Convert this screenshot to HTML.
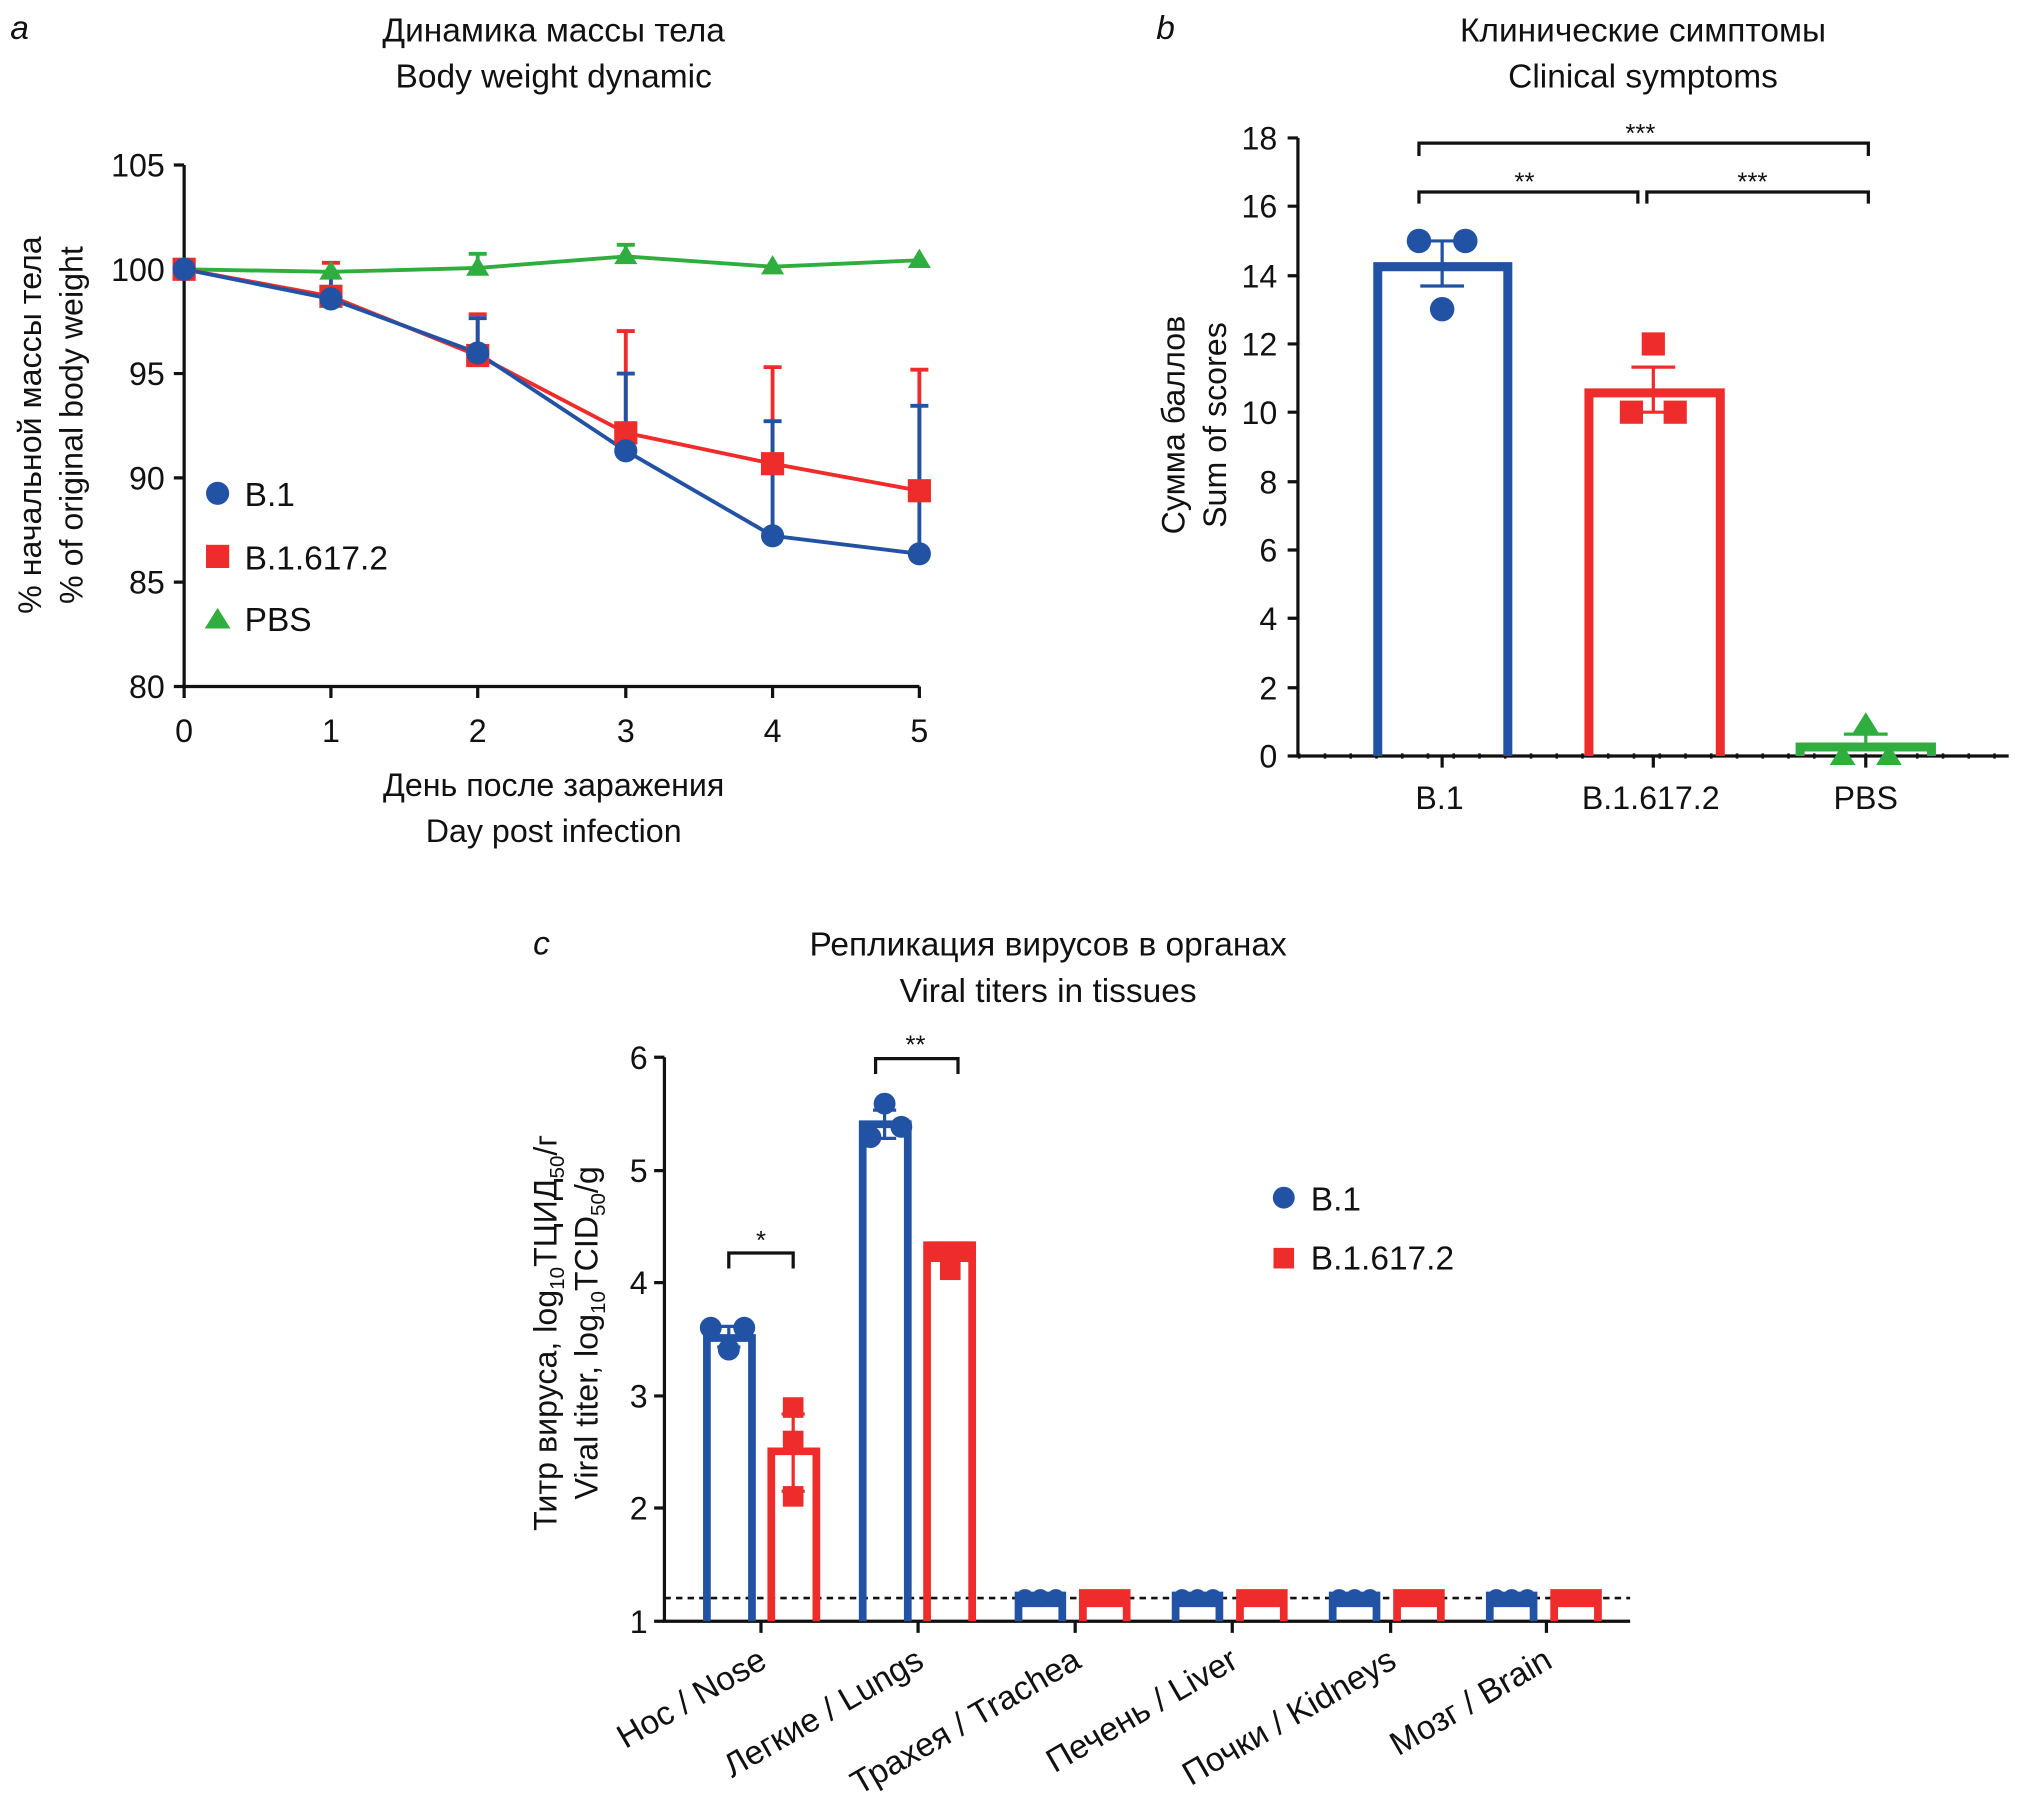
<!DOCTYPE html>
<html><head><meta charset="utf-8"><style>
html,body{margin:0;padding:0;background:#fff;}
svg{display:block;}
text{font-family:"Liberation Sans Narrow","Liberation Sans","DejaVu Sans",sans-serif;fill:#111;}
</style></head><body>
<svg width="2019" height="1812" viewBox="0 0 1568 1407" xmlns="http://www.w3.org/2000/svg">
<!-- Panel a -->
<text x="8" y="30" font-size="26" font-style="italic">a</text>
<text x="430" y="32" font-size="26" text-anchor="middle">Динамика массы тела</text>
<text x="430" y="68" font-size="26" text-anchor="middle">Body weight dynamic</text>
<g stroke="#111" stroke-width="2.5" fill="none">
<path d="M143 128V533H714"/>
<path d="M135 128H143M135 209H143M135 290H143M135 371H143M135 452H143M135 533H143"/>
<path d="M143 533V542M257 533V542M371 533V542M486 533V542M600 533V542M714 533V542"/>
</g>
<g font-size="25" text-anchor="end">
<text x="128" y="137">105</text><text x="128" y="218">100</text><text x="128" y="299">95</text>
<text x="128" y="380">90</text><text x="128" y="461">85</text><text x="128" y="542">80</text>
</g>
<g font-size="25" text-anchor="middle">
<text x="143" y="576">0</text><text x="257" y="576">1</text><text x="371" y="576">2</text>
<text x="486" y="576">3</text><text x="600" y="576">4</text><text x="714" y="576">5</text>
<text x="430" y="618">День после заражения</text>
<text x="430" y="654">Day post infection</text>
</g>
<g font-size="25" text-anchor="middle">
<text transform="translate(32,330) rotate(-90)">% начальной массы тела</text>
<text transform="translate(64,330) rotate(-90)">% of original body weight</text>
</g>
<g stroke="#ee2c2c" stroke-width="3">
<path d="M257 211V204M250 204H264M371 276V244M364 244H378M486 336V257M479 257H493M600 360V285M593 285H607M714 383V287M707 287H721"/>
</g>
<g stroke="#2152a3" stroke-width="3">
<path d="M257 232V215M250 215H264M371 274V247M364 247H378M486 350V290M479 290H493M600 416V327M593 327H607M714 430V315M707 315H721"/>
</g>
<g stroke="#2fae3f" stroke-width="3">
<path d="M371 208V197M364 197H378M486 199V190M479 190H493"/>
</g>
<polyline fill="none" stroke="#2fae3f" stroke-width="3" points="143,209 257,211 371,208 486,199 600,207 714,202"/>
<polyline fill="none" stroke="#ee2c2c" stroke-width="3" points="143,209 257,230 371,276 486,336 600,360 714,381"/>
<polyline fill="none" stroke="#2152a3" stroke-width="3" points="143,209 257,232 371,274 486,350 600,416 714,430"/>
<g fill="#2fae3f">
<path d="M257 202l9 15h-18z"/><path d="M371 199l9 15h-18z"/><path d="M486 190l9 15h-18z"/><path d="M600 198l9 15h-18z"/><path d="M714 193l9 15h-18z"/>
</g>
<g fill="#ee2c2c">
<rect x="134" y="200" width="18" height="18"/><rect x="248" y="221" width="18" height="18"/><rect x="362" y="267" width="18" height="18"/><rect x="477" y="327" width="18" height="18"/><rect x="591" y="351" width="18" height="18"/><rect x="705" y="372" width="18" height="18"/>
</g>
<g fill="#2152a3">
<circle cx="143" cy="209" r="9"/><circle cx="257" cy="232" r="9"/><circle cx="371" cy="274" r="9"/><circle cx="486" cy="350" r="9"/><circle cx="600" cy="416" r="9"/><circle cx="714" cy="430" r="9"/>
</g>
<circle cx="169" cy="383" r="9" fill="#2152a3"/>
<rect x="160" y="423" width="18" height="18" fill="#ee2c2c"/>
<path d="M169 472l10 16h-20z" fill="#2fae3f"/>
<g font-size="26"><text x="190" y="393">B.1</text><text x="190" y="442">B.1.617.2</text><text x="190" y="490">PBS</text></g>

<!-- Panel b -->
<text x="898" y="30" font-size="26" font-style="italic">b</text>
<text x="1276" y="32" font-size="26" text-anchor="middle">Клинические симптомы</text>
<text x="1276" y="68" font-size="26" text-anchor="middle">Clinical symptoms</text>
<g stroke="#111" stroke-width="2.5" fill="none">
<path d="M1008 107V587H1560"/>
<path d="M1000 107H1008M1000 160H1008M1000 214H1008M1000 267H1008M1000 320H1008M1000 374H1008M1000 427H1008M1000 480H1008M1000 534H1008M1000 587H1008"/>
<path d="M1120 587V596M1284 587V596M1449 587V596"/>
</g>
<path d="M1008 587H1560" stroke="#111" stroke-width="4" stroke-dasharray="2 18"/>
<g font-size="25" text-anchor="end">
<text x="992" y="116">18</text><text x="992" y="169">16</text><text x="992" y="223">14</text><text x="992" y="276">12</text><text x="992" y="329">10</text>
<text x="992" y="383">8</text><text x="992" y="436">6</text><text x="992" y="489">4</text><text x="992" y="543">2</text><text x="992" y="596">0</text>
</g>
<g font-size="25" text-anchor="middle">
<text x="1118" y="628">B.1</text><text x="1282" y="628">B.1.617.2</text><text x="1449" y="628">PBS</text>
<text transform="translate(920,330) rotate(-90)">Сумма баллов</text>
<text transform="translate(952,330) rotate(-90)">Sum of scores</text>
</g>
<g fill="none" stroke-width="7">
<path d="M1070 587V207H1171V587" stroke="#2152a3"/>
<path d="M1234 587V305H1336V587" stroke="#ee2c2c"/>
<path d="M1398 587V580H1500V587" stroke="#2fae3f"/>
</g>
<g stroke-width="2.5">
<path d="M1120 187V222M1103 187H1137M1103 222H1137" stroke="#2152a3"/>
<path d="M1284 320V285M1267 285H1301M1267 320H1301" stroke="#ee2c2c"/>
<path d="M1449 580V570M1432 570H1466" stroke="#2fae3f"/>
</g>
<g fill="#2152a3"><circle cx="1102" cy="187" r="9.5"/><circle cx="1138" cy="187" r="9.5"/><circle cx="1120" cy="240" r="9.5"/></g>
<g fill="#ee2c2c"><rect x="1275" y="258" width="18" height="18"/><rect x="1258" y="311" width="18" height="18"/><rect x="1292" y="311" width="18" height="18"/></g>
<g fill="#2fae3f"><path d="M1449 553l10 16h-20z"/><path d="M1431 578l10 16h-20z"/><path d="M1467 578l10 16h-20z"/></g>
<g stroke="#111" stroke-width="2.5" fill="none">
<path d="M1102 121V111H1451V121"/>
<path d="M1102 158V149H1272V158"/>
<path d="M1279 158V149H1451V158"/>
</g>
<g font-size="20" text-anchor="middle"><text x="1274" y="110">***</text><text x="1184" y="148">**</text><text x="1361" y="148">***</text></g>

<!-- Panel c -->
<text x="414" y="741" font-size="26" font-style="italic">c</text>
<text x="814" y="742" font-size="26" text-anchor="middle">Репликация вирусов в органах</text>
<text x="814" y="778" font-size="26" text-anchor="middle">Viral titers in tissues</text>
<g stroke="#111" stroke-width="2.5" fill="none">
<path d="M516 821V1259H1266"/>
<path d="M508 821H516M508 909H516M508 996H516M508 1084H516M508 1171H516M508 1259H516"/>
<path d="M591 1259V1268M713 1259V1268M835 1259V1268M957 1259V1268M1080 1259V1268M1201 1259V1268"/>
</g>
<path d="M516 1241H1266" stroke="#111" stroke-width="2" stroke-dasharray="5 4"/>
<g font-size="25" text-anchor="end">
<text x="503" y="830">6</text><text x="503" y="918">5</text><text x="503" y="1005">4</text><text x="503" y="1093">3</text><text x="503" y="1180">2</text><text x="503" y="1268">1</text>
</g>
<g font-size="25" text-anchor="middle">
<text transform="translate(432,1035) rotate(-90)">Титр вируса, log<tspan font-size="16" dy="6">10</tspan><tspan dy="-6">ТЦИД</tspan><tspan font-size="16" dy="6">50</tspan><tspan dy="-6">/г</tspan></text>
<text transform="translate(464,1035) rotate(-90)">Viral titer, log<tspan font-size="16" dy="6">10</tspan><tspan dy="-6">TCID</tspan><tspan font-size="16" dy="6">50</tspan><tspan dy="-6">/g</tspan></text>
</g>
<g font-size="26" text-anchor="end">
<text transform="translate(597,1294) rotate(-30)">Нос / Nose</text>
<text transform="translate(719,1294) rotate(-30)">Легкие / Lungs</text>
<text transform="translate(841,1294) rotate(-30)">Трахея / Trachea</text>
<text transform="translate(963,1294) rotate(-30)">Печень / Liver</text>
<text transform="translate(1086,1294) rotate(-30)">Почки / Kidneys</text>
<text transform="translate(1207,1294) rotate(-30)">Мозг / Brain</text>
</g>
<g fill="none" stroke-width="6">
<path d="M549 1259V1039H584V1259" stroke="#2152a3"/>
<path d="M599 1259V1127H634V1259" stroke="#ee2c2c"/>
<path d="M670 1259V873H705V1259" stroke="#2152a3"/>
<path d="M720 1259V967H755V1259" stroke="#ee2c2c"/>
</g>
<g fill="#2152a3">
<path d="M788 1259V1236H828V1259H822V1248H794V1259z"/>
<path d="M910 1259V1236H950V1259H944V1248H916V1259z"/>
<path d="M1032 1259V1236H1072V1259H1066V1248H1038V1259z"/>
<path d="M1154 1259V1236H1194V1259H1188V1248H1160V1259z"/>
</g>
<g fill="#ee2c2c">
<path d="M838 1259V1234H878V1259H872V1248H844V1259z"/>
<path d="M960 1259V1234H1000V1259H994V1248H966V1259z"/>
<path d="M1082 1259V1234H1122V1259H1116V1248H1088V1259z"/>
<path d="M1204 1259V1234H1244V1259H1238V1248H1210V1259z"/>
</g>
<g fill="#2152a3">
<circle cx="796" cy="1241" r="7"/><circle cx="808" cy="1241" r="7"/><circle cx="820" cy="1241" r="7"/>
<circle cx="918" cy="1241" r="7"/><circle cx="930" cy="1241" r="7"/><circle cx="942" cy="1241" r="7"/>
<circle cx="1040" cy="1241" r="7"/><circle cx="1052" cy="1241" r="7"/><circle cx="1064" cy="1241" r="7"/>
<circle cx="1162" cy="1241" r="7"/><circle cx="1174" cy="1241" r="7"/><circle cx="1186" cy="1241" r="7"/>
</g>
<g stroke-width="2.5">
<path d="M566 1030V1046M557 1030H575M557 1046H575" stroke="#2152a3"/>
<path d="M616 1098V1158M607 1098H625M607 1158H625" stroke="#ee2c2c"/>
<path d="M687 862V884M678 862H696M678 884H696" stroke="#2152a3"/>
<path d="M737 968V980M728 968H746" stroke="#ee2c2c"/>
</g>
<g fill="#2152a3">
<circle cx="552" cy="1031" r="8.5"/><circle cx="578" cy="1031" r="8.5"/><circle cx="566" cy="1048" r="8.5"/>
<circle cx="687" cy="857" r="8.5"/><circle cx="700" cy="875" r="8.5"/><circle cx="676" cy="883" r="8.5"/>
</g>
<g fill="#ee2c2c">
<rect x="608" y="1085" width="16" height="16"/><rect x="608" y="1111" width="16" height="16"/><rect x="608" y="1154" width="16" height="16"/>
<rect x="722" y="964" width="16" height="16"/><rect x="738" y="964" width="16" height="16"/><rect x="730" y="978" width="16" height="16"/>
</g>
<g stroke="#111" stroke-width="2.5" fill="none">
<path d="M566 985V973H616V985"/>
<path d="M680 834V822H744V834"/>
</g>
<g font-size="20" text-anchor="middle"><text x="591" y="970">*</text><text x="711" y="818">**</text></g>
<circle cx="997" cy="930" r="8.5" fill="#2152a3"/>
<rect x="989" y="969" width="16" height="16" fill="#ee2c2c"/>
<g font-size="26"><text x="1018" y="940">B.1</text><text x="1018" y="986">B.1.617.2</text></g>
</svg>
</body></html>
